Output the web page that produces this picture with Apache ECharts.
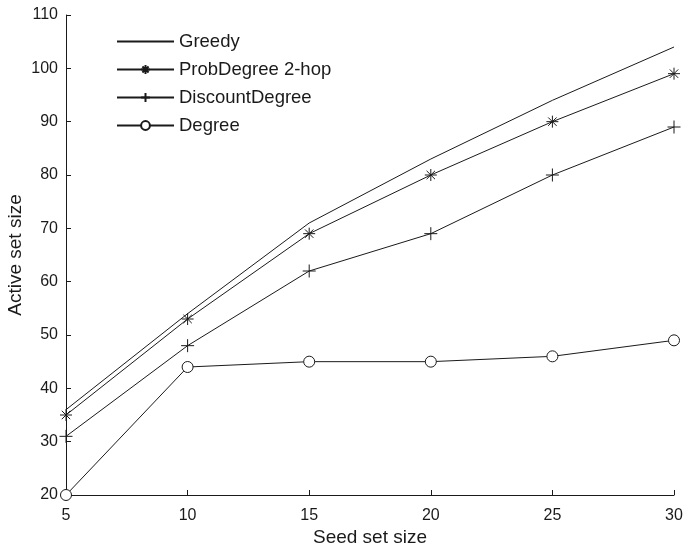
<!DOCTYPE html>
<html><head><meta charset="utf-8">
<script src="https://cdn.jsdelivr.net/npm/echarts@6/dist/echarts.min.js"></script>
<style>html,body{margin:0;padding:0;background:#fff}#c{width:685px;height:550px}</style>
</head><body><div id="c"></div>
<script>
const seedSizes = [5, 10, 15, 20, 25, 30];
const greedy = [36, 54, 71, 83, 94, 104];
const probDegree = [35, 53, 69, 80, 90, 99];
const discountDegree = [31, 48, 62, 69, 80, 89];
const degree = [20, 44, 45, 45, 46, 49];
const seriesNames = ['Greedy', 'ProbDegree 2-hop', 'DiscountDegree', 'Degree'];

const ink = '#1a1a1a';
const star = 'path://M5,0 L5,10 M0,5 L10,5 M1.5,1.5 L8.5,8.5 M8.5,1.5 L1.5,8.5';
const plus = 'path://M5,0 L5,10 M0,5 L10,5';
const pairs = arr => seedSizes.map((x, i) => [x, arr[i]]);

function mk(name, data, symbol, size, fill, bw) {
  return {
    name, type: 'line', data: pairs(data),
    symbol: symbol, symbolSize: size,
    showSymbol: symbol !== 'none',
    lineStyle: { color: ink, width: 1 },
    itemStyle: { color: fill, borderColor: bw ? ink : 'none', borderWidth: bw },
    emphasis: { disabled: true },
    animation: false
  };
}

const chart = echarts.init(document.getElementById('c'));
chart.setOption({
  backgroundColor: '#fff',
  animation: false,
  textStyle: { fontFamily: 'Liberation Sans, Arial, sans-serif' },
  grid: { left: 66, right: 11, top: 15, bottom: 55, containLabel: false, outerBoundsMode: 'none' },
  legend: {
    left: 116, top: 32, orient: 'vertical', padding: 0,
    itemWidth: 57, itemHeight: 11, itemGap: 9, selectedMode: false,
    textStyle: { fontSize: 18.5, color: ink, padding: [0, 0, 0, 0] },
    data: seriesNames
  },
  xAxis: {
    type: 'value', min: 5, max: 30, interval: 5,
    name: 'Seed set size', nameLocation: 'middle', nameGap: 33, nameMoveOverlap: false,
    nameTextStyle: { fontSize: 19, color: ink },
    axisLine: { lineStyle: { color: ink } },
    axisTick: { inside: true, length: 5, lineStyle: { color: ink } },
    axisLabel: { fontSize: 16, color: ink, margin: 13 },
    splitLine: { show: false }
  },
  yAxis: {
    type: 'value', min: 20, max: 110, interval: 10,
    name: 'Active set size', nameLocation: 'middle', nameGap: 41, nameMoveOverlap: false,
    nameTextStyle: { fontSize: 19, color: ink },
    axisLine: { show: true, lineStyle: { color: ink } },
    axisTick: { show: true, inside: true, length: 5, lineStyle: { color: ink } },
    axisLabel: { fontSize: 16, color: ink, margin: 8 },
    splitLine: { show: false }
  },
  series: [
    mk(seriesNames[0], greedy, 'none', 0, 'none', 0),
    mk(seriesNames[1], probDegree, star, 12, 'none', 1),
    mk(seriesNames[2], discountDegree, plus, 13, 'none', 1),
    mk(seriesNames[3], degree, 'circle', 11, '#fff', 1)
  ]
});
</script></body></html>
